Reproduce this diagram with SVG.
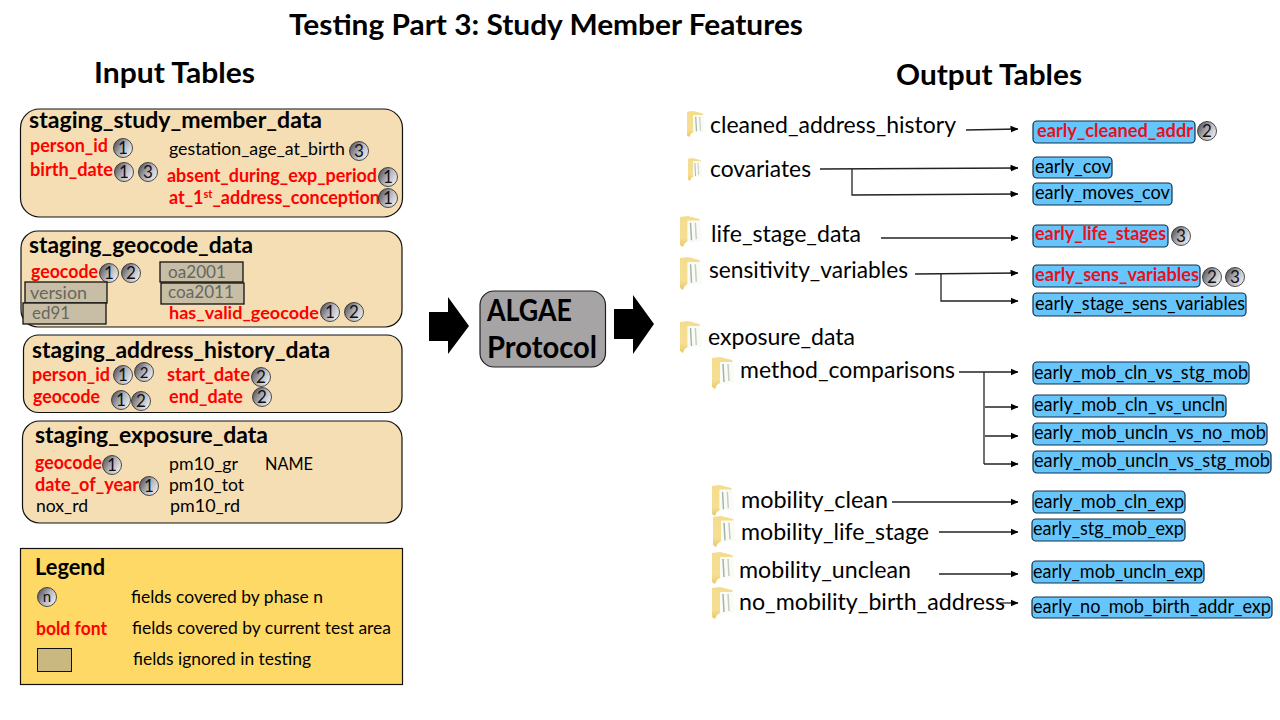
<svg xmlns="http://www.w3.org/2000/svg" width="1280" height="720" viewBox="0 0 1280 720">
<style>
text{font-family:"Lato","Carlito","Open Sans",sans-serif;fill:#000}
.h{font-weight:700;font-size:28px}
.ct{font-weight:700;font-size:22px}
.f{font-size:18px}
.r{font-size:18px;font-weight:700;fill:#f00}
.g{font-size:18px;fill:#666660}
.tree{font-size:22.500px}
.o{font-size:18.500px}
.ro{font-size:18.500px;font-weight:700;fill:#e8101c}
.card{fill:#f5deb3;stroke:#111;stroke-width:1.200}
.ig{fill:#c8bea6;stroke:#111;stroke-width:1.300}
.blue{fill:#66c6fc;stroke:#10304a;stroke-width:1.200}
.b{fill:url(#ball);stroke:#222;stroke-width:.8}
.n{font-size:17px;text-anchor:middle;fill:#111}
.c{fill:none;stroke:#222;stroke-width:1.300}
.a{marker-end:url(#ah)}
</style>
<defs>
<linearGradient id="ball" x1="0" y1="0.2" x2="1" y2="0.8"><stop offset="0" stop-color="#505056"/><stop offset=".5" stop-color="#b4b4ba"/><stop offset="1" stop-color="#f4f4f4"/></linearGradient>
<linearGradient id="fy" x1="0" y1="0" x2="0" y2="1"><stop offset="0" stop-color="#f3dc8c"/><stop offset=".7" stop-color="#f6df94"/><stop offset="1" stop-color="#e9c868"/></linearGradient>
<marker id="ah" viewBox="0 0 8 8" refX="7.500" refY="4" markerWidth="8" markerHeight="8" markerUnits="userSpaceOnUse" orient="auto"><path d="M0 .6 8 4 0 7.400z" fill="#000"/></marker>
<symbol id="folder" viewBox="0 0 24 32" preserveAspectRatio="none">
<path d="M0 1 8 0 20 3 21 5 8 5 8 26 5 28 3 32 0 30z" fill="url(#fy)"/>
<path d="M8 5 21 5 23 26 8 27z" fill="#fbfbf6"/>
<path d="M11 7 12 25" stroke="#9fb5a8" stroke-width="1.500" fill="none"/>
<path d="M16 7 17 24" stroke="#c4ccc4" stroke-width="1.500" fill="none"/>
</symbol>
</defs>
<rect width="1280" height="720" fill="#fff"/>
<g id="titles">
<text class="h" x="289" y="35" textLength="514" lengthAdjust="spacingAndGlyphs">Testing Part 3: Study Member Features</text>
<text class="h" x="94" y="83" textLength="161" lengthAdjust="spacingAndGlyphs">Input Tables</text>
<text class="h" x="896" y="85" textLength="186" lengthAdjust="spacingAndGlyphs">Output Tables</text>
</g>
<g id="connectors">
<path class="c a" d="M966 130 1018 129"/>
<path class="c a" d="M820 169 1018 168"/>
<path class="c a" d="M852 169V195L1018 194"/>
<path class="c a" d="M881 238H1018"/>
<path class="c a" d="M915 274 1018 273"/>
<path class="c a" d="M941 274V301H1018"/>
<path class="c a" d="M959 372H1018"/>
<path class="c" d="M984 372V464"/>
<path class="c a" d="M985 407H1018"/>
<path class="c a" d="M985 436H1018"/>
<path class="c a" d="M984 464H1018"/>
<path class="c a" d="M892 502H1018"/>
<path class="c a" d="M939 532H1018"/>
<path class="c a" d="M939 574H1018"/>
<path class="c a" d="M1000 603H1018"/>
<path d="M429 312H448V297L469 326 448 354V341H429z" fill="#000"/>
<path d="M614 309H633V295L654 324 633 354V339H614z" fill="#000"/>
</g>
<g id="staging_study_member_data">
<rect class="card" x="20.500" y="109" width="382" height="108" rx="19"/>
<text class="ct" x="29" y="128" textLength="293" lengthAdjust="spacingAndGlyphs">staging_study_member_data</text>
<text class="r" x="30" y="152" textLength="78" lengthAdjust="spacingAndGlyphs">person_id</text>
<circle class="b" cx="123" cy="148" r="9.500"/><text class="n" x="123" y="154">1</text>
<text class="f" x="169" y="155" textLength="176" lengthAdjust="spacingAndGlyphs">gestation_age_at_birth</text>
<circle class="b" cx="359" cy="151" r="9.500"/><text class="n" x="359" y="157">3</text>
<text class="r" x="30" y="176" textLength="83" lengthAdjust="spacingAndGlyphs">birth_date</text>
<circle class="b" cx="124" cy="172" r="9.500"/><text class="n" x="124" y="178">1</text>
<circle class="b" cx="148" cy="172" r="9.500"/><text class="n" x="148" y="178">3</text>
<text class="r" x="167" y="182" textLength="210" lengthAdjust="spacingAndGlyphs">absent_during_exp_period</text>
<circle class="b" cx="388" cy="177" r="9.500"/><text class="n" x="388" y="183">1</text>
<text class="r" x="169" y="204" textLength="211" lengthAdjust="spacingAndGlyphs">at_1<tspan dy="-6" font-size="11">st</tspan><tspan dy="6">_address_conception</tspan></text>
<circle class="b" cx="388" cy="198" r="9.500"/><text class="n" x="388" y="204">1</text>
</g>
<g id="staging_geocode_data">
<rect class="card" x="21" y="231" width="381" height="96" rx="17"/>
<text class="ct" x="29" y="253" textLength="224" lengthAdjust="spacingAndGlyphs">staging_geocode_data</text>
<text class="r" x="31" y="278" textLength="67" lengthAdjust="spacingAndGlyphs">geocode</text>
<circle class="b" cx="109" cy="273" r="9.500"/><text class="n" x="109" y="279">1</text>
<circle class="b" cx="131" cy="273" r="9.500"/><text class="n" x="131" y="279">2</text>
<rect class="ig" x="160" y="262" width="83" height="20"/><text class="g" x="168" y="278" textLength="58" lengthAdjust="spacingAndGlyphs">oa2001</text>
<rect class="ig" x="161" y="283" width="83" height="21"/><text class="g" x="168" y="298" textLength="66" lengthAdjust="spacingAndGlyphs" style="font-size:17px">coa2011</text>
<rect class="ig" x="25" y="282" width="82" height="21"/><text class="g" x="30" y="299" textLength="57" lengthAdjust="spacingAndGlyphs">version</text>
<rect class="ig" x="23" y="303" width="83" height="21"/><text class="g" x="32" y="319" textLength="38" lengthAdjust="spacingAndGlyphs">ed91</text>
<text class="r" x="169" y="319" textLength="150" lengthAdjust="spacingAndGlyphs" style="font-size:17px">has_valid_geocode</text>
<circle class="b" cx="330" cy="312" r="9.500"/><text class="n" x="330" y="318">1</text>
<circle class="b" cx="354" cy="312" r="9.500"/><text class="n" x="354" y="318">2</text>
</g>
<g id="staging_address_history_data">
<rect class="card" x="23.500" y="335" width="378.500" height="77.500" rx="15"/>
<text class="ct" x="32" y="358" textLength="298" lengthAdjust="spacingAndGlyphs">staging_address_history_data</text>
<text class="r" x="32" y="381" textLength="78" lengthAdjust="spacingAndGlyphs">person_id</text>
<circle class="b" cx="123" cy="375" r="9.500"/><text class="n" x="123" y="381">1</text>
<circle class="b" cx="144" cy="372" r="9.500"/><text class="n" x="144" y="378" style="font-size:15px">2</text>
<text class="r" x="167" y="381" textLength="83" lengthAdjust="spacingAndGlyphs">start_date</text>
<circle class="b" cx="261" cy="377" r="9.500"/><text class="n" x="261" y="383">2</text>
<text class="r" x="33" y="403" textLength="67" lengthAdjust="spacingAndGlyphs">geocode</text>
<circle class="b" cx="121" cy="400" r="9.500"/><text class="n" x="121" y="406">1</text>
<circle class="b" cx="141" cy="401" r="9.500"/><text class="n" x="141" y="407">2</text>
<text class="r" x="169" y="403" textLength="74" lengthAdjust="spacingAndGlyphs">end_date</text>
<circle class="b" cx="262" cy="397" r="9.500"/><text class="n" x="262" y="403">2</text>
</g>
<g id="staging_exposure_data">
<rect class="card" x="22.500" y="421" width="379.500" height="102" rx="17"/>
<text class="ct" x="35" y="443" textLength="233" lengthAdjust="spacingAndGlyphs">staging_exposure_data</text>
<text class="r" x="35" y="469" textLength="67" lengthAdjust="spacingAndGlyphs">geocode</text>
<circle class="b" cx="112" cy="465" r="9.500"/><text class="n" x="112" y="471">1</text>
<text class="f" x="169" y="470" textLength="69" lengthAdjust="spacingAndGlyphs">pm10_gr</text>
<text class="f" x="265" y="470" textLength="48" lengthAdjust="spacingAndGlyphs">NAME</text>
<text class="r" x="35" y="491" textLength="104" lengthAdjust="spacingAndGlyphs">date_of_year</text>
<circle class="b" cx="149" cy="486" r="9.500"/><text class="n" x="149" y="492">1</text>
<text class="f" x="169" y="491" textLength="75" lengthAdjust="spacingAndGlyphs">pm10_tot</text>
<text class="f" x="36" y="512" textLength="52" lengthAdjust="spacingAndGlyphs">nox_rd</text>
<text class="f" x="170" y="512" textLength="70" lengthAdjust="spacingAndGlyphs">pm10_rd</text>
</g>
<g id="legend">
<rect x="20.500" y="548.500" width="382" height="136" fill="#ffd966" stroke="#111" stroke-width="1.200"/>
<text x="35" y="575" font-size="22" font-weight="700" textLength="70" lengthAdjust="spacingAndGlyphs">Legend</text>
<circle class="b" cx="47" cy="597" r="9.500"/><text class="n" x="47" y="602" style="font-size:15px">n</text>
<text class="f" x="131" y="603" textLength="192" lengthAdjust="spacingAndGlyphs">fields covered by phase n</text>
<text class="r" x="36" y="635" textLength="71" lengthAdjust="spacingAndGlyphs">bold font</text>
<text class="f" x="132" y="634" textLength="259" lengthAdjust="spacingAndGlyphs">fields covered by current test area</text>
<rect x="37.500" y="648.500" width="34" height="23" fill="#c9b880" stroke="#111"/>
<text class="f" x="133" y="665" textLength="178" lengthAdjust="spacingAndGlyphs">fields ignored in testing</text>
</g>
<g id="algae_protocol">
<rect x="480" y="291" width="125.500" height="76" rx="14" fill="#a6a4a4" stroke="#222" stroke-width="1.200"/>
<text x="487" y="321" font-size="30" font-weight="700" textLength="85" lengthAdjust="spacingAndGlyphs">ALGAE</text>
<text x="487" y="358" font-size="30" font-weight="700" textLength="110" lengthAdjust="spacingAndGlyphs">Protocol</text>
</g>
<g id="cleaned_address_history"><use href="#folder" x="687" y="111" width="19" height="26"/><text class="tree" x="710" y="133" textLength="246" lengthAdjust="spacingAndGlyphs">cleaned_address_history</text></g>
<g id="covariates"><use href="#folder" x="688" y="158" width="15" height="23"/><text class="tree" x="710" y="177" textLength="101" lengthAdjust="spacingAndGlyphs">covariates</text></g>
<g id="life_stage_data"><use href="#folder" x="680" y="216" width="23" height="31"/><text class="tree" x="711" y="242" textLength="150" lengthAdjust="spacingAndGlyphs">life_stage_data</text></g>
<g id="sensitivity_variables"><use href="#folder" x="680" y="257" width="23" height="33"/><text class="tree" x="709" y="278" textLength="199" lengthAdjust="spacingAndGlyphs">sensitivity_variables</text></g>
<g id="exposure_data"><use href="#folder" x="680" y="321" width="23" height="32"/><text class="tree" x="708" y="345" textLength="147" lengthAdjust="spacingAndGlyphs">exposure_data</text></g>
<g id="method_comparisons"><use href="#folder" x="712" y="357" width="24" height="32"/><text class="tree" x="740" y="378" textLength="215" lengthAdjust="spacingAndGlyphs">method_comparisons</text></g>
<g id="mobility_clean"><use href="#folder" x="712" y="485" width="23" height="31"/><text class="tree" x="741" y="508" textLength="147" lengthAdjust="spacingAndGlyphs">mobility_clean</text></g>
<g id="mobility_life_stage"><use href="#folder" x="713" y="516" width="24" height="31"/><text class="tree" x="741" y="540" textLength="188" lengthAdjust="spacingAndGlyphs">mobility_life_stage</text></g>
<g id="mobility_unclean"><use href="#folder" x="712" y="552" width="24" height="32"/><text class="tree" x="739" y="578" textLength="172" lengthAdjust="spacingAndGlyphs">mobility_unclean</text></g>
<g id="no_mobility_birth_address"><use href="#folder" x="712" y="587" width="24" height="32"/><text class="tree" x="739" y="610" textLength="266" lengthAdjust="spacingAndGlyphs">no_mobility_birth_address</text></g>
<g id="early_cleaned_addr"><rect class="blue" x="1033" y="121" width="162" height="22" rx="4"/><text class="ro" x="1037" y="137" textLength="156" lengthAdjust="spacingAndGlyphs">early_cleaned_addr</text><circle class="b" cx="1207" cy="131" r="9.500"/><text class="n" x="1207" y="137">2</text></g>
<g id="early_cov"><rect class="blue" x="1033" y="157" width="79" height="21" rx="4"/><text class="o" x="1035" y="173" textLength="76" lengthAdjust="spacingAndGlyphs">early_cov</text></g>
<g id="early_moves_cov"><rect class="blue" x="1033" y="183" width="139" height="22" rx="4"/><text class="o" x="1035" y="199" textLength="135" lengthAdjust="spacingAndGlyphs">early_moves_cov</text></g>
<g id="early_life_stages"><rect class="blue" x="1033" y="225" width="135" height="22" rx="4"/><text class="ro" x="1035" y="240" textLength="131" lengthAdjust="spacingAndGlyphs">early_life_stages</text><circle class="b" cx="1181" cy="236" r="9.500"/><text class="n" x="1181" y="242">3</text></g>
<g id="early_sens_variables"><rect class="blue" x="1033" y="265" width="167" height="22" rx="4"/><text class="ro" x="1035" y="281" textLength="164" lengthAdjust="spacingAndGlyphs">early_sens_variables</text><circle class="b" cx="1212" cy="277" r="9.500"/><text class="n" x="1212" y="283">2</text><circle class="b" cx="1235" cy="277" r="9.500"/><text class="n" x="1235" y="283">3</text></g>
<g id="early_stage_sens_variables"><rect class="blue" x="1033" y="293" width="213" height="23" rx="4"/><text class="o" x="1035" y="310" textLength="210" lengthAdjust="spacingAndGlyphs">early_stage_sens_variables</text></g>
<g id="early_mob_cln_vs_stg_mob"><rect class="blue" x="1033" y="362" width="216" height="22" rx="4"/><text class="o" x="1034" y="379" textLength="214" lengthAdjust="spacingAndGlyphs">early_mob_cln_vs_stg_mob</text></g>
<g id="early_mob_cln_vs_uncln"><rect class="blue" x="1033" y="395" width="193" height="22" rx="4"/><text class="o" x="1034" y="411" textLength="191" lengthAdjust="spacingAndGlyphs">early_mob_cln_vs_uncln</text></g>
<g id="early_mob_uncln_vs_no_mob"><rect class="blue" x="1033" y="423" width="234" height="22" rx="4"/><text class="o" x="1034" y="439" textLength="232" lengthAdjust="spacingAndGlyphs">early_mob_uncln_vs_no_mob</text></g>
<g id="early_mob_uncln_vs_stg_mob"><rect class="blue" x="1033" y="451" width="238" height="22" rx="4"/><text class="o" x="1034" y="467" textLength="236" lengthAdjust="spacingAndGlyphs">early_mob_uncln_vs_stg_mob</text></g>
<g id="early_mob_cln_exp"><rect class="blue" x="1033" y="491" width="152" height="22" rx="4"/><text class="o" x="1034" y="508" textLength="150" lengthAdjust="spacingAndGlyphs">early_mob_cln_exp</text></g>
<g id="early_stg_mob_exp"><rect class="blue" x="1032" y="519" width="153" height="22" rx="4"/><text class="o" x="1033" y="535" textLength="151" lengthAdjust="spacingAndGlyphs">early_stg_mob_exp</text></g>
<g id="early_mob_uncln_exp"><rect class="blue" x="1032" y="561" width="172" height="22" rx="4"/><text class="o" x="1033" y="578" textLength="170" lengthAdjust="spacingAndGlyphs">early_mob_uncln_exp</text></g>
<g id="early_no_mob_birth_addr_exp"><rect class="blue" x="1032" y="597" width="240" height="21" rx="4"/><text class="o" x="1033" y="613" textLength="238" lengthAdjust="spacingAndGlyphs">early_no_mob_birth_addr_exp</text></g>
</svg>
